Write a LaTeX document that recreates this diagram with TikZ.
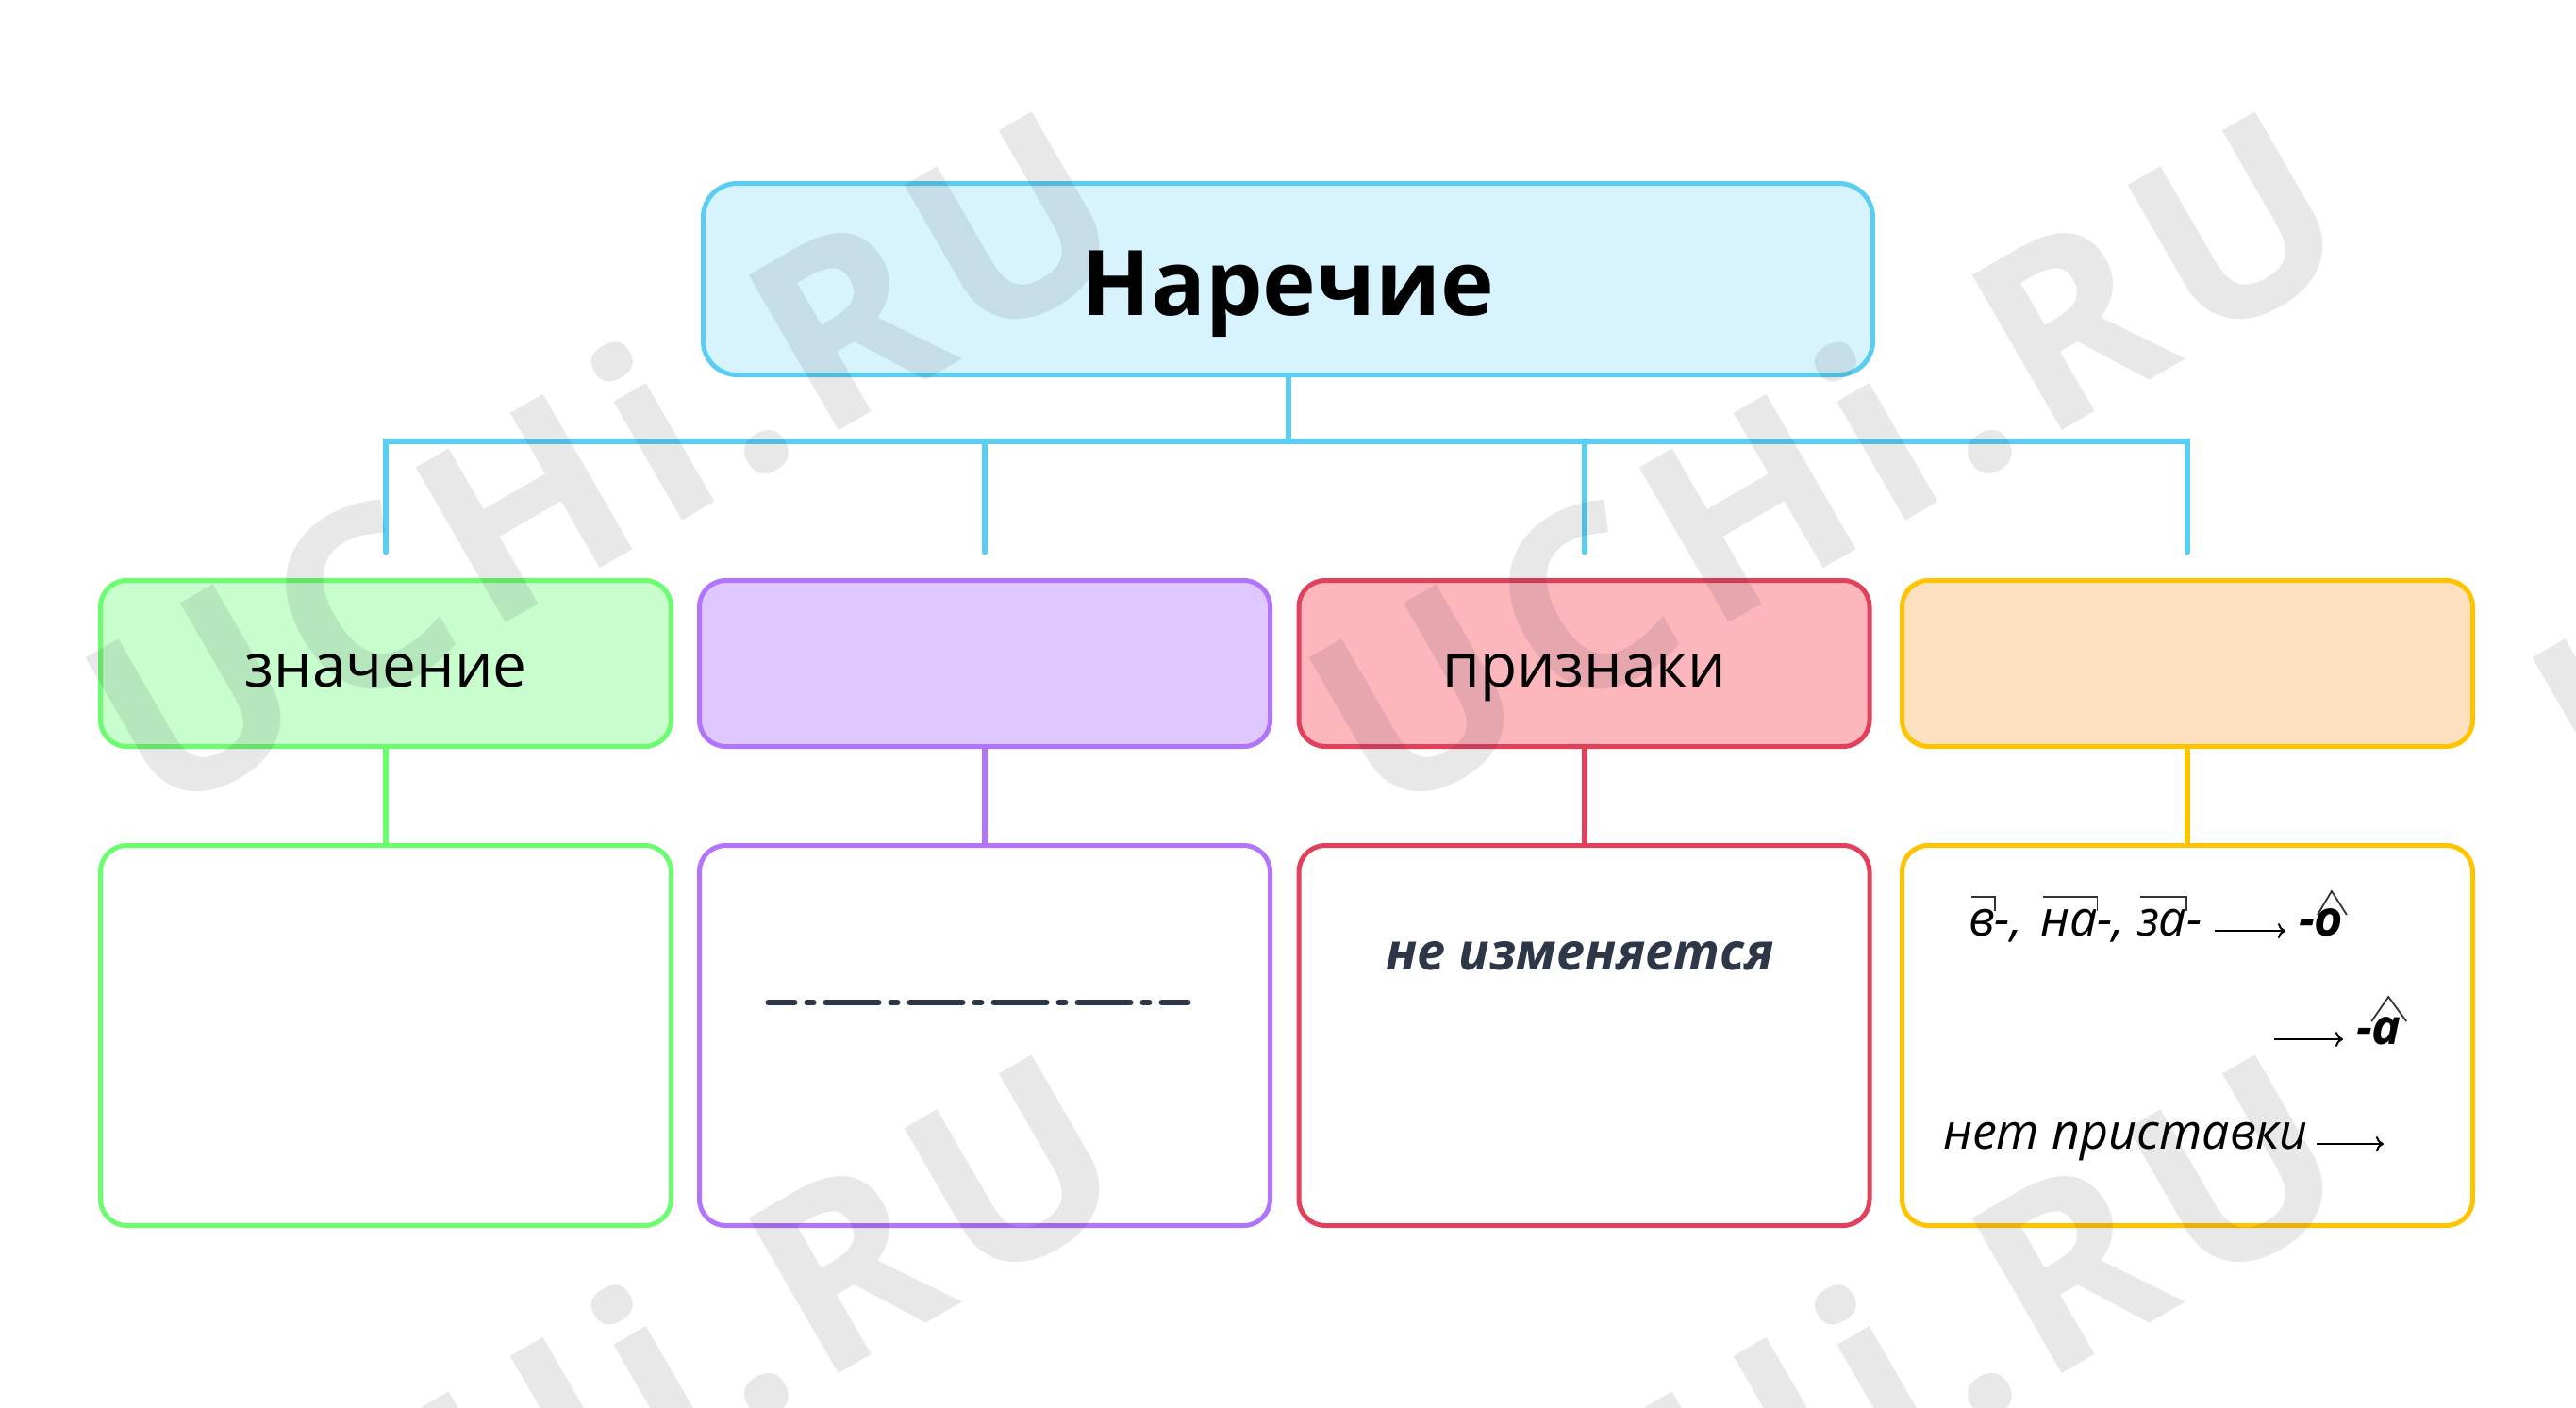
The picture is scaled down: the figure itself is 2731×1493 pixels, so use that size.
\documentclass[tikz,border=0pt]{standalone}
\usepackage{fontspec}
\setmainfont{Open Sans}
\usetikzlibrary{calc,arrows.meta}
\definecolor{cyanL}{RGB}{90,206,242}
\definecolor{cyanF}{RGB}{215,243,253}
\definecolor{grnL}{RGB}{108,252,112}
\definecolor{grnF}{RGB}{200,253,205}
\definecolor{purL}{RGB}{178,116,250}
\definecolor{purF}{RGB}{222,200,253}
\definecolor{redL}{RGB}{226,65,92}
\definecolor{redF}{RGB}{252,182,188}
\definecolor{orL}{RGB}{255,196,0}
\definecolor{orF}{RGB}{253,224,191}
\definecolor{slate}{RGB}{45,55,72}
\definecolor{wm}{RGB}{30,30,45}
\begin{document}
\begin{tikzpicture}[x=0.5pt,y=-0.5pt,
 box/.style={rectangle, line width=2.5pt, inner sep=0pt, outer sep=0pt},
 topbox/.style={box, draw=cyanL, fill=cyanF, rounded corners=18pt, minimum width=620pt, minimum height=101.5pt},
 midbox/.style={box, rounded corners=14pt, minimum width=302.5pt, minimum height=88pt},
 lowbox/.style={box, fill=white, rounded corners=14pt, minimum width=302.5pt, minimum height=201.5pt},
 lbl/.style={inner sep=0pt, outer sep=0pt, anchor=base, font=\fontsize{32}{38}\selectfont},
 conn/.style={line width=3pt},
 rt/.style={inner sep=0pt, outer sep=0pt, anchor=base west, font=\itshape\fontsize{26}{31}\selectfont},
 rb/.style={inner sep=0pt, outer sep=0pt, anchor=base west, font=\bfseries\itshape\fontsize{26}{31}\selectfont},
 thinarr/.style={line width=1pt, -{To[length=4pt,width=8pt]}},
 sign/.style={line width=0.9pt, draw=black!80},
 wmark/.style={rotate=30, text=wm, text opacity=0.1, inner sep=0pt,
   font=\bfseries\fontsize{133}{160}\selectfont\addfontfeature{LetterSpace=6}}
]
\useasboundingbox (0,0) rectangle (2731,1493);
\fill[white] (0,0) rectangle (2731,1493);

% top box
\node[topbox] (top) at (1365.5,296) {};
\node[lbl, font=\bfseries\fontsize{48}{58}\selectfont] (topl) at (1365.5,334) {Наречие};

% middle boxes
\node[midbox, draw=grnL, fill=grnF] (m1) at (409,703.5) {};
\node[midbox, draw=purL, fill=purF] (m2) at (1044,703.5) {};
\node[midbox, draw=redL, fill=redF] (m3) at (1679.5,703.5) {};
\node[midbox, draw=orL, fill=orF] (m4) at (2319,703.5) {};
\node[lbl] (m1l) at (409,728) {значение};
\node[lbl] (m3l) at (1679.5,728) {признаки};

% bottom boxes
\node[lowbox, draw=grnL] (b1) at (409,1098) {};
\node[lowbox, draw=purL] (b2) at (1044,1098) {};
\node[lowbox, draw=redL] (b3) at (1679.5,1098) {};
\node[lowbox, draw=orL] (b4) at (2319,1098) {};

% cyan tree
\coordinate (busy) at ($(top.south)+(0,70)$);
\coordinate (d1) at ($(m1.north)+(0,-30)$);
\coordinate (d2) at ($(m2.north)+(0,-30)$);
\coordinate (d3) at ($(m3.north)+(0,-30)$);
\coordinate (d4) at ($(m4.north)+(0,-30)$);
\draw[conn, cyanL] (top.south) -- (busy);
\draw[conn, cyanL, line cap=round] (d1) |- (busy) -| (d4);
\draw[conn, cyanL, line cap=round] (d2) -- (d2 |- busy);
\draw[conn, cyanL, line cap=round] (d3) -- (d3 |- busy);

% middle to bottom
\draw[conn, grnL] (m1.south) -- (b1.north);
\draw[conn, purL] (m2.south) -- (b2.north);
\draw[conn, redL] (m3.south) -- (b3.north);
\draw[conn, orL] (m4.south) -- (b4.north);

% purple bottom: dash-dot line
\coordinate (dl) at (814.5,1063);
\coordinate (dr) at (1259.5,1063);
\draw[line width=3pt, slate, line cap=round, dash pattern=on 28pt off 6.5pt on 3.5pt off 6.5pt, dash phase=14pt] (dl) -- (dr);

% red bottom
\node[lbl, font=\bfseries\itshape\fontsize{27}{33}\selectfont, text=slate] (neizm) at (1675,1028) {не изменяется};

% orange bottom
\node[rt] (v) at (2087,992) {в};
\node[rt] (vd) at (v.base east) {-,};
\node[rt] (na) at (2163,992) {на};
\node[rt] (nad) at (na.base east) {-,};
\node[rt] (za) at (2266,992) {за};
\node[rt] (zad) at (za.base east) {-};
\node[rb] (oh) at (2437,992) {-};
\node[rb] (oo) at (oh.base east) {о};
\foreach \p in {v,na,za}{
  \draw[sign] ($(\p.base west)+(3,-41)$) -| ($(\p.base east)+(0,-26)$);
}
\draw[thinarr] ($(zad.base east)+(13,-5)$) -- ($(oh.base west)+(-14,-5)$);
\draw[sign] ($(oo.base)+(-12,-22)$) -- ($(oo.base)+(3,-47)$) -- ($(oo.base)+(19,-22)$);

\node[rb] (ah) at (2498,1107) {-};
\node[rb] (aa) at (ah.base east) {а};
\coordinate (a2s) at (2411,1102);
\draw[thinarr] (a2s) -- ($(ah.base west)+(-14,-5)$);
\draw[sign] ($(aa.base)+(-16,-24)$) -- ($(aa.base)+(2,-50)$) -- ($(aa.base)+(21,-24)$);

\node[rt] (net) at (2060,1218) {нет приставки};
\coordinate (a3e) at (2527,1213);
\draw[thinarr] ($(net.base east)+(9,-5)$) -- (a3e);

% watermark
\begin{scope}
\clip (0,0) rectangle (2731,1493);
\foreach \i in {-1,0,1,2}{
  \foreach \j in {-1,0,1}{
    \node[wmark] (wm-\i-\j) at ({638+1297*\i},{487+1000*\j}) {UCHi.RU};
  }
}
\end{scope}
\end{tikzpicture}
\end{document}
